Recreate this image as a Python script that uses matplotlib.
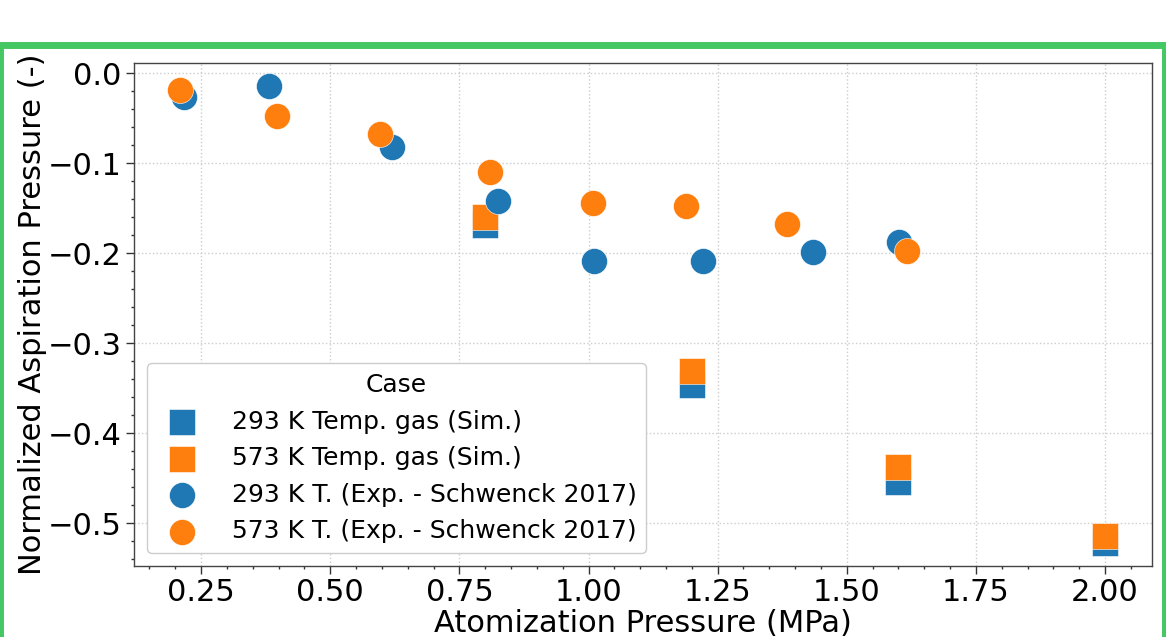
import matplotlib
matplotlib.use("Agg")
import matplotlib.pyplot as plt
from matplotlib.patches import Rectangle
from matplotlib.ticker import MultipleLocator


# ---------------- DATA ----------------
# simulations (square markers)
sim_pressure = [0.8, 1.2, 1.6, 2.0]
sim_293 = [-0.169, -0.346, -0.454, -0.522]
sim_573 = [-0.160, -0.331, -0.437, -0.514]

# experiments, Schwenck 2017 (circle markers)
exp_pressure_293 = [0.217, 0.382, 0.620, 0.824, 1.011, 1.221, 1.435, 1.602]
exp_293 = [-0.026, -0.014, -0.082, -0.142, -0.209, -0.209, -0.199, -0.188]
exp_pressure_573 = [0.209, 0.397, 0.596, 0.809, 1.009, 1.189, 1.384, 1.616]
exp_573 = [-0.019, -0.047, -0.067, -0.110, -0.144, -0.148, -0.167, -0.197]

labels = [
    "293 K Temp. gas (Sim.)",
    "573 K Temp. gas (Sim.)",
    "293 K T. (Exp. - Schwenck 2017)",
    "573 K T. (Exp. - Schwenck 2017)",
]

BLUE = "#1f77b4"
ORANGE = "#ff7f0e"


# ---------------- FIGURE ----------------
W, H = 1166, 637
fig = plt.figure(figsize=(W / 100, H / 100), dpi=100)
ax = fig.add_axes([134 / W, 1 - 565.7 / H, (1152 - 134) / W, (565.7 - 63.3) / H])

size = 350
kw = dict(s=size, edgecolors="white", linewidths=0.4, zorder=3)
ax.scatter(sim_pressure, sim_293, marker="s", color=BLUE, label=labels[0], **kw)
ax.scatter(sim_pressure, sim_573, marker="s", color=ORANGE, label=labels[1], **kw)
ax.scatter(exp_pressure_293, exp_293, marker="o", color=BLUE, label=labels[2], **kw)
ax.scatter(exp_pressure_573, exp_573, marker="o", color=ORANGE, label=labels[3], **kw)

ax.set_xlim(0.120, 2.091)
ax.set_ylim(-0.547, 0.011)

ax.xaxis.set_major_locator(MultipleLocator(0.25))
ax.xaxis.set_minor_locator(MultipleLocator(0.05))
ax.yaxis.set_major_locator(MultipleLocator(0.1))
ax.yaxis.set_minor_locator(MultipleLocator(0.02))

ax.tick_params(which="major", length=5.5, width=1, labelsize=22, color="#333333")
ax.tick_params(which="minor", length=2.5, width=1, color="#333333")
for sp in ax.spines.values():
    sp.set_color("#444444")
    sp.set_linewidth(1)

ax.grid(True, which="major", linestyle=":", color="#cccccc", linewidth=1)
ax.set_axisbelow(True)

ax.set_xlabel("Atomization Pressure (MPa)", fontsize=22, labelpad=1)
ax.set_ylabel("Normalized Aspiration Pressure (-)", fontsize=22, labelpad=0.5)

leg = ax.legend(title="Case", loc="lower left", fontsize=18, title_fontsize=18,
                handletextpad=1.0, borderaxespad=0.5, framealpha=1)
leg.get_frame().set_edgecolor("#cccccc")

# green frame around the figure
fig.add_artist(Rectangle((-0.5 / W, -0.1), (1165 / W), (1 - 44.5 / H) + 0.1,
                         transform=fig.transFigure, fill=False,
                         edgecolor="#45c763", linewidth=5.0, clip_on=False))

fig.savefig("out.png", dpi=100, facecolor="white")
